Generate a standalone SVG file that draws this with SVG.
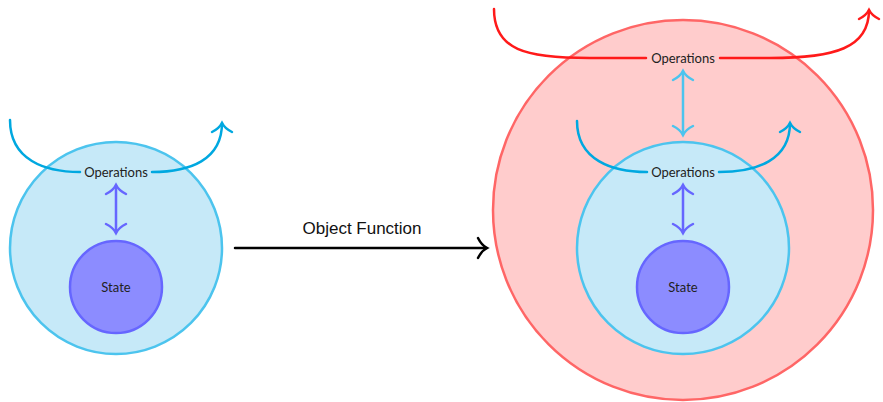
<svg xmlns="http://www.w3.org/2000/svg" width="883" height="402" viewBox="0 0 883 402">
<defs>
<style>
.lbl{font-family:Lato,"Open Sans","DejaVu Sans",sans-serif;font-size:13px;fill:#222;text-anchor:middle;dominant-baseline:central}
.big{font-family:"Liberation Sans",Lato,sans-serif;font-size:17px;fill:#111;text-anchor:middle}
.outer{fill:#c6e9f8;stroke:#4cc4ee;stroke-width:2.5}
.state{fill:#8c8cff;stroke:#6666ff;stroke-width:2.5}
.red{fill:#ffcccc;stroke:#ff6666;stroke-width:2.5}
.c{fill:none;stroke-width:2.5;stroke-linecap:round}
</style>
<marker id="abBlue" markerUnits="userSpaceOnUse" viewBox="-12 -12 24 24" markerWidth="24" markerHeight="24" refX="0" refY="0" orient="auto-start-reverse" overflow="visible">
<path d="M-9,-10 C-6,-4 -2,-1 0,0 C-2,1 -6,4 -9,10" fill="none" stroke="#00a8e0" stroke-width="2.5" stroke-linecap="round"/>
</marker>
<marker id="abRed" markerUnits="userSpaceOnUse" viewBox="-12 -12 24 24" markerWidth="24" markerHeight="24" refX="0" refY="0" orient="auto-start-reverse" overflow="visible">
<path d="M-9,-10 C-6,-4 -2,-1 0,0 C-2,1 -6,4 -9,10" fill="none" stroke="#ff1a1a" stroke-width="2.5" stroke-linecap="round"/>
</marker>
<marker id="abPurple" markerUnits="userSpaceOnUse" viewBox="-12 -12 24 24" markerWidth="24" markerHeight="24" refX="0" refY="0" orient="auto-start-reverse" overflow="visible">
<path d="M-9,-10 C-6,-4 -2,-1 0,0 C-2,1 -6,4 -9,10" fill="none" stroke="#6666ff" stroke-width="2.5" stroke-linecap="round"/>
</marker>
<marker id="abLight" markerUnits="userSpaceOnUse" viewBox="-12 -12 24 24" markerWidth="24" markerHeight="24" refX="0" refY="0" orient="auto-start-reverse" overflow="visible">
<path d="M-9,-10 C-6,-4 -2,-1 0,0 C-2,1 -6,4 -9,10" fill="none" stroke="#4cc4ee" stroke-width="2.5" stroke-linecap="round"/>
</marker>
<marker id="abBlack" markerUnits="userSpaceOnUse" viewBox="-12 -12 24 24" markerWidth="24" markerHeight="24" refX="0" refY="0" orient="auto-start-reverse" overflow="visible">
<path d="M-9,-10 C-6,-4 -2,-1 0,0 C-2,1 -6,4 -9,10" fill="none" stroke="#000" stroke-width="2.5" stroke-linecap="round"/>
</marker>
</defs>
<rect width="883" height="402" fill="#fff"/>

<g id="left-object">
<circle class="outer" cx="116" cy="248" r="106"/>
</g>
<g id="left-state">
<circle class="state" cx="116" cy="287" r="46"/>
<text class="lbl" x="116" y="287">State</text>
</g>

<g id="right-wrapper">
<circle class="red" cx="683" cy="210" r="190"/>
</g>
<g id="right-object">
<circle class="outer" cx="683" cy="248" r="106"/>
</g>
<g id="right-state">
<circle class="state" cx="683" cy="287" r="46"/>
<text class="lbl" x="683" y="287">State</text>
</g>

<g id="connectors">
<path class="c" stroke="#00a8e0" d="M10,120 C10,160 45,172 80,172" />
<path class="c" stroke="#00a8e0" d="M152,172 C190,172 222,160 222,123" marker-end="url(#abBlue)"/>
<path class="c" stroke="#6666ff" d="M116,185 L116,233" marker-start="url(#abPurple)" marker-end="url(#abPurple)"/>

<path class="c" stroke="#00a8e0" d="M577,121 C577,160 612,172 647,172" />
<path class="c" stroke="#00a8e0" d="M719,172 C757,172 790,160 790,123" marker-end="url(#abBlue)"/>
<path class="c" stroke="#6666ff" d="M683,185 L683,233" marker-start="url(#abPurple)" marker-end="url(#abPurple)"/>
<path class="c" stroke="#4cc4ee" d="M683,71 L683,135" marker-start="url(#abLight)" marker-end="url(#abLight)"/>

<path class="c" stroke="#ff1a1a" d="M494,9 C494,50 525,58 590,58 L646,58" />
<path class="c" stroke="#ff1a1a" d="M720,58 L770,58 C835,58 869,48 869,10" marker-end="url(#abRed)"/>

<path class="c" stroke="#000" d="M235,248 L487,248" marker-end="url(#abBlack)"/>
<text class="big" x="362" y="234">Object Function</text>
</g>

<g id="left-operations">
<text class="lbl" x="116" y="172">Operations</text>
</g>
<g id="right-inner-operations">
<text class="lbl" x="683" y="172">Operations</text>
</g>
<g id="right-outer-operations">
<text class="lbl" x="683" y="58">Operations</text>
</g>
</svg>
